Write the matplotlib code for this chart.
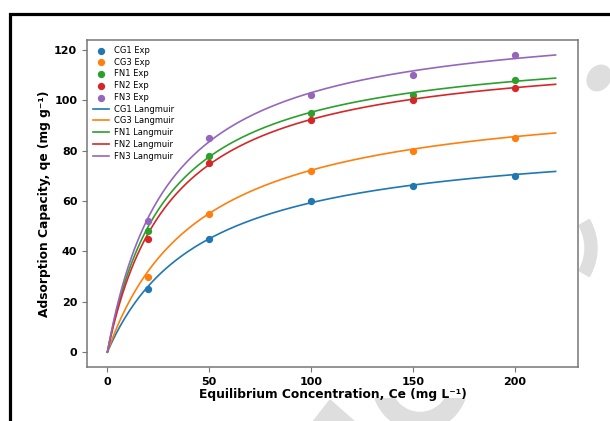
import numpy as np
import matplotlib
matplotlib.use("Agg")
import matplotlib.pyplot as plt
from matplotlib.patches import Rectangle, Ellipse, Wedge, Polygon
from matplotlib.transforms import IdentityTransform, Bbox

# Equilibrium concentrations (mg/L) and measured uptake (mg/g)
ce_exp = [20, 50, 100, 150, 200]
samples = ["CG1", "CG3", "FN1", "FN2", "FN3"]
qe_cg1 = [25, 45, 60, 66, 70]
qe_cg3 = [30, 55, 72, 80, 85]
qe_fn1 = [48, 78, 95, 102, 108]
qe_fn2 = [45, 75, 92, 100, 105]
qe_fn3 = [52, 85, 102, 110, 118]

# Langmuir parameters: q_max (mg/g) and K_L (L/mg)
q_max = [86.9, 104.9, 123.4, 121.6, 134.2]
k_l = [0.0215, 0.0221, 0.0338, 0.0316, 0.0330]

colors = ["#1f77b4", "#ff7f0e", "#2ca02c", "#d62728", "#9467bd"]
exp_sets = [qe_cg1, qe_cg3, qe_fn1, qe_fn2, qe_fn3]

W, H = 610, 421
fig = plt.figure(figsize=(W / 100, H / 100), dpi=100)
fig.patch.set_facecolor("white")

# faint background marks and page border
wm = "#dedede"
pix = IdentityTransform()
fig.patches.append(Ellipse((599, H - 78), 22, 27, angle=-35, color=wm,
                           transform=pix, zorder=-2))
fig.patches.append(Wedge((540, H - 248), 57, -30, 30, width=12, color=wm,
                         transform=pix, zorder=-2))
ring = Wedge((420, H - 383), 47.5, 180, 360, width=18, color=wm,
             transform=pix, zorder=-2)
ring.set_clip_box(Bbox([[0, 0], [W, H - 398]]))
fig.patches.append(ring)
fig.patches.append(Polygon([(330, H - 400), (312, -2), (356, -2)], closed=True,
                           color=wm, transform=pix, zorder=-2))
fig.patches.append(Rectangle((10, -20), 700, H - 14 + 20, fill=False,
                             edgecolor="black", linewidth=2.3,
                             transform=pix, zorder=-1))

ax = fig.add_axes([87 / W, 1 - 367 / H, (578 - 87) / W, (367 - 40) / H])

ce_fit = np.linspace(0, 220, 300)
for name, qe, c in zip(samples, exp_sets, colors):
    ax.scatter(ce_exp, qe, s=18, color=c, label=f"{name} Exp", zorder=3)
for name, qm, k, c in zip(samples, q_max, k_l, colors):
    ax.plot(ce_fit, qm * k * ce_fit / (1 + k * ce_fit), color=c, lw=1.2,
            label=f"{name} Langmuir")

ax.set_xlim(-10, 231)
ax.set_xticks([0, 50, 100, 150, 200])
ax.set_yticks([0, 20, 40, 60, 80, 100, 120])
for lab in ax.get_xticklabels() + ax.get_yticklabels():
    lab.set_fontweight("bold")
ax.tick_params(labelsize=8, color="#777777", length=3.5)
for sp in ax.spines.values():
    sp.set_color("#777777")
    sp.set_linewidth(1.1)

ax.set_xlabel("Equilibrium Concentration, Ce (mg L\u207b\u00b9)", fontsize=8.8,
              fontweight="bold", labelpad=1)
ax.set_ylabel("Adsorption Capacity, qe (mg g\u207b\u00b9)", fontsize=8.8,
              fontweight="bold", labelpad=2)

ax.legend(loc="upper left", frameon=False, fontsize=6, handlelength=1.9,
          handletextpad=0.6, labelspacing=0.33, borderaxespad=0.3)

fig.savefig("out.png", dpi=100)
